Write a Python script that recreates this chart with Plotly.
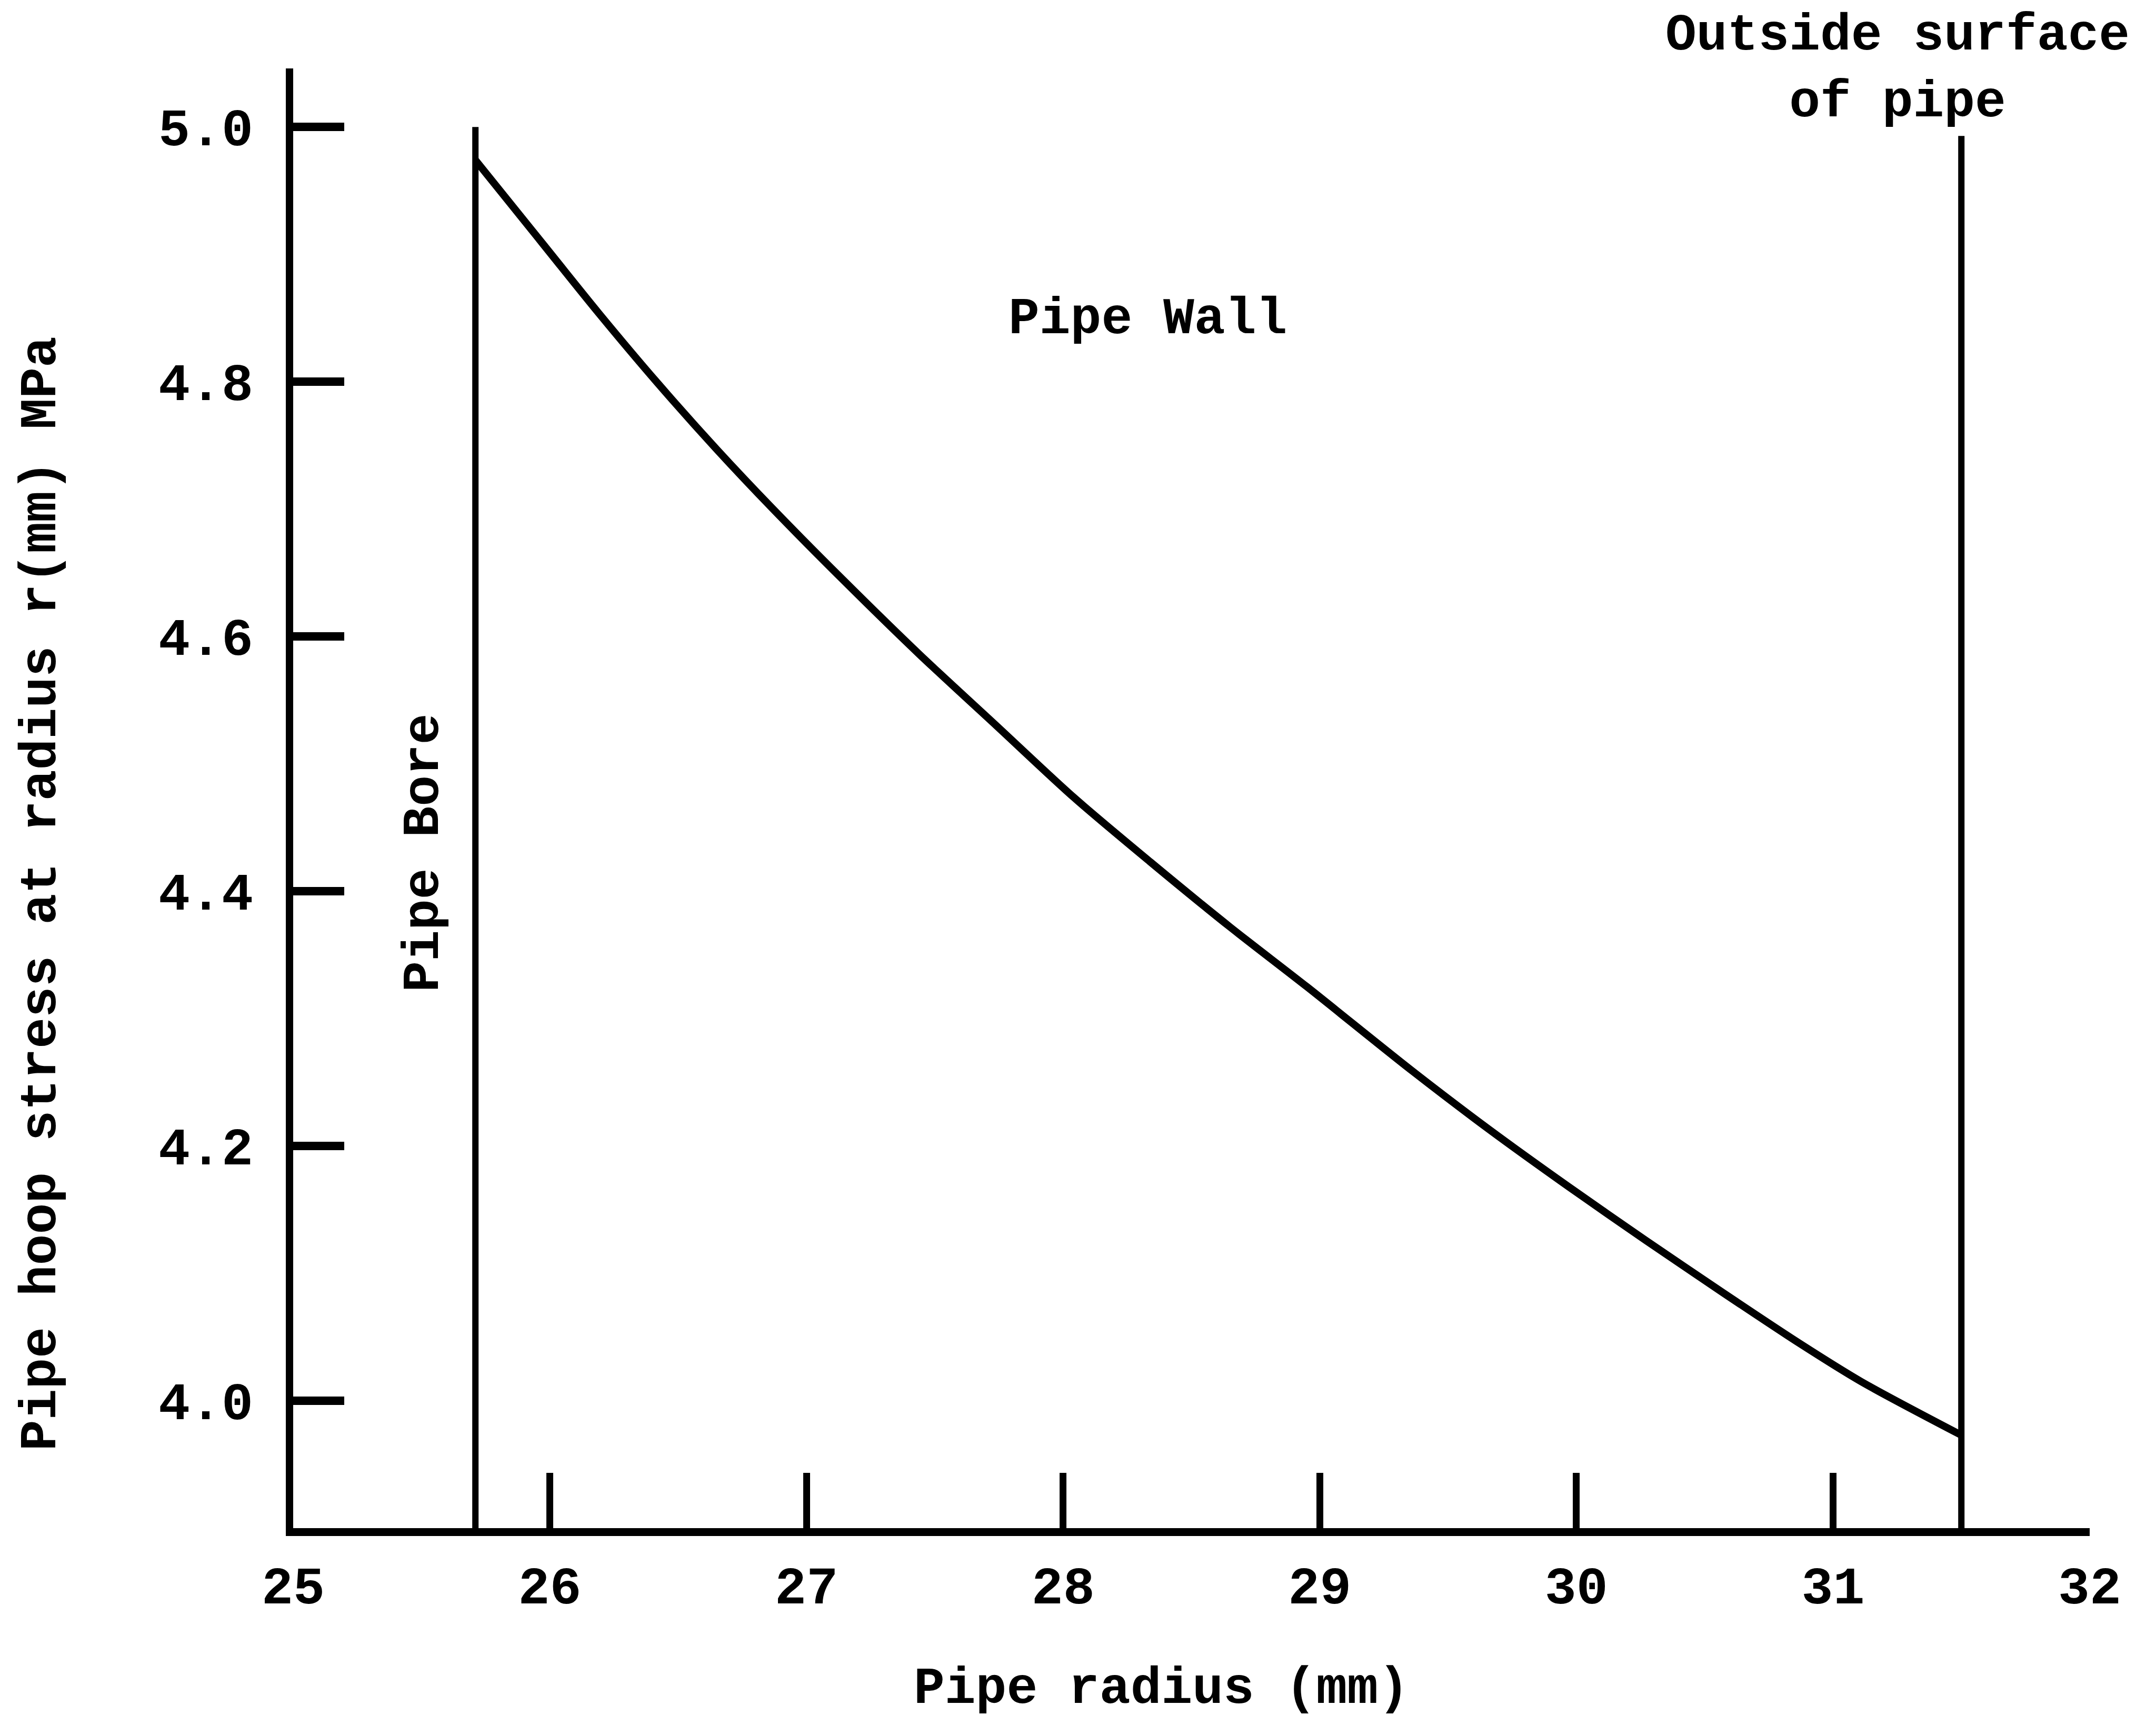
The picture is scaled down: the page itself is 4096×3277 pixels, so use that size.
import plotly.graph_objects as go

# ---------------- data ----------------
radius = [25.71, 25.97, 26.19, 26.42, 26.65, 26.87, 27.14, 27.44, 27.74, 28.04,
          28.34, 28.65, 28.95, 29.36, 29.66, 29.97, 30.27, 30.57, 30.87,
          31.11, 31.50]
stress = [4.974, 4.909, 4.854, 4.799, 4.747, 4.700, 4.645, 4.586, 4.530, 4.474,
          4.423, 4.372, 4.325, 4.259, 4.213, 4.168, 4.126, 4.085, 4.045,
          4.015, 3.973]

bore_radius = 25.71      # inside surface (pipe bore)
outer_radius = 31.50     # outside surface of pipe
bore_line_top = 5.0
outer_line_top = 4.993

x_tick_vals = [25, 26, 27, 28, 29, 30, 31, 32]
x_tick_text = ["25", "26", "27", "28", "29", "30", "31", "32"]
x_tick_marks = [26, 27, 28, 29, 30, 31]
y_tick_vals = [4.0, 4.2, 4.4, 4.6, 4.8, 5.0]
y_tick_text = ["4.0", "4.2", "4.4", "4.6", "4.8", "5.0"]

x_range = [25, 32]
y_range = [3.9, 5.046]

x_title = "Pipe radius (mm)"
y_title = "Pipe hoop stress at radius r(mm) MPa"
label_wall = "Pipe Wall"
label_bore = "Pipe Bore"
label_outside = "Outside surface<br>of pipe"

# ---------------- styling ----------------
FONT = "Liberation Mono, Courier New, monospace"
BLACK = "#000000"
TXT = dict(family=FONT, size=98, color=BLACK, weight="bold")

fig = go.Figure()

fig.add_trace(go.Scatter(
    x=radius, y=stress, mode="lines",
    line=dict(color=BLACK, width=14, shape="spline", smoothing=0.8),
    hoverinfo="skip", showlegend=False))

fig.add_trace(go.Scatter(
    x=[bore_radius, bore_radius], y=[y_range[0], bore_line_top], mode="lines",
    line=dict(color=BLACK, width=12), xaxis="x2",
    hoverinfo="skip", showlegend=False))

fig.add_trace(go.Scatter(
    x=[outer_radius, outer_radius], y=[y_range[0], outer_line_top], mode="lines",
    line=dict(color=BLACK, width=12), xaxis="x2",
    hoverinfo="skip", showlegend=False))

fig.update_layout(
    width=4096, height=3277,
    margin=dict(l=557, r=126, t=130, b=374, pad=0),
    paper_bgcolor="white", plot_bgcolor="white",
    showlegend=False,
    xaxis=dict(
        range=x_range, tickmode="array", tickvals=x_tick_vals, ticktext=x_tick_text,
        ticks="", showline=True, linewidth=15, linecolor=BLACK,
        showgrid=False, zeroline=False, ticklabelstandoff=8,
        tickfont=dict(family=FONT, size=100, color=BLACK, weight="bold"),
    ),
    xaxis2=dict(
        range=x_range, overlaying="x", anchor="y", side="bottom",
        tickmode="array", tickvals=x_tick_marks, ticks="inside",
        ticklen=105, tickwidth=13, tickcolor=BLACK,
        showticklabels=False, showline=False, showgrid=False, zeroline=False,
    ),
    yaxis=dict(
        range=y_range, tickmode="array", tickvals=y_tick_vals, ticktext=y_tick_text,
        ticks="inside", ticklen=97, tickwidth=16, tickcolor=BLACK,
        showline=True, linewidth=14, linecolor=BLACK,
        showgrid=False, zeroline=False, ticklabelstandoff=42,
        tickfont=dict(family=FONT, size=100, color=BLACK, weight="bold"),
    ),
)

annotations = [
    dict(text=x_title, xref="paper", yref="paper", x=0.4834, y=-0.110,
         xanchor="center", yanchor="middle", showarrow=False, font=TXT),
    dict(text=y_title, xref="paper", yref="paper", x=-0.1403, y=0.4345,
         xanchor="center", yanchor="middle", showarrow=False, textangle=-90, font=TXT),
    dict(text=label_wall, xref="x", yref="y", x=28.33, y=4.849,
         xanchor="center", yanchor="middle", showarrow=False, font=TXT),
    dict(text=label_bore, xref="x", yref="y", x=25.509, y=4.430,
         xanchor="center", yanchor="middle", showarrow=False, textangle=-90, font=TXT),
    dict(text=label_outside, xref="paper", yref="paper", x=0.893, y=0.9997,
         xanchor="center", yanchor="middle", showarrow=False, font=TXT),
]
fig.update_layout(annotations=annotations)

fig.write_html("out.html")
